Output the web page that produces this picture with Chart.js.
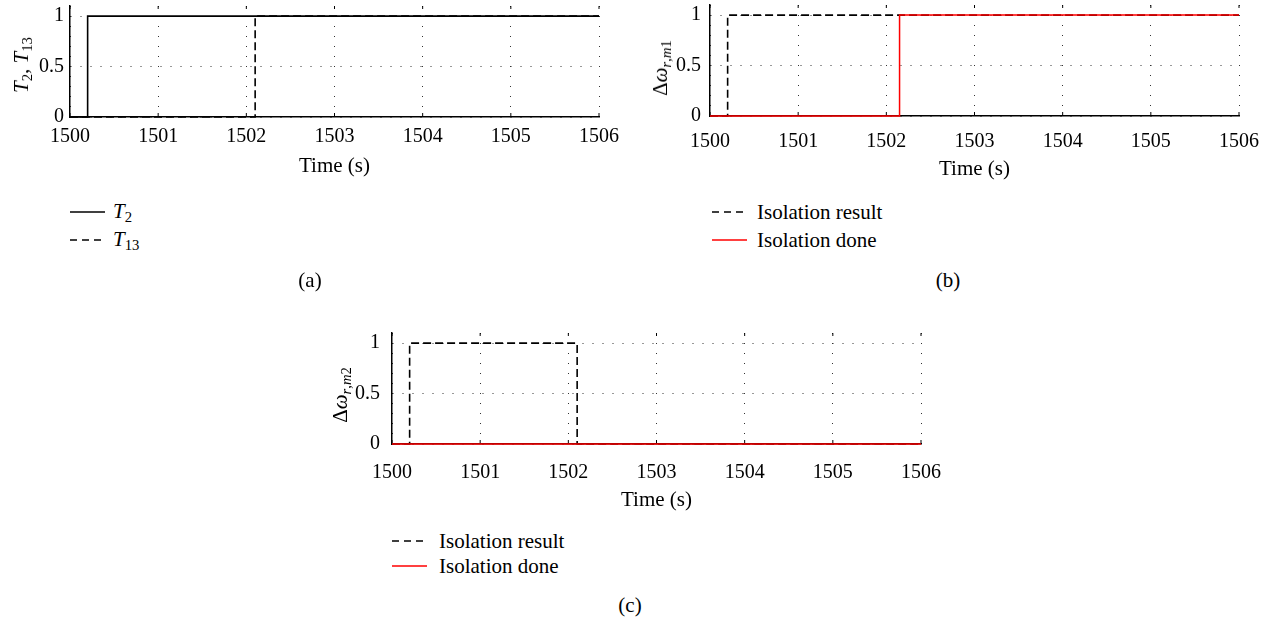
<!DOCTYPE html>
<html>
<head>
<meta charset="utf-8">
<script src="https://cdn.jsdelivr.net/npm/chart.js@4.4.0/dist/chart.umd.min.js"></script>
<style>
  body { margin: 0; background: #fff; width: 1270px; height: 619px; position: relative; overflow: hidden;
         font-family: "Liberation Serif", "Times New Roman", "DejaVu Serif", serif; color: #000; }
  canvas { position: absolute; }
  .txt { position: absolute; font-size: 21px; line-height: 24px; white-space: nowrap; }
  .ytitle { position: absolute; font-size: 21px; line-height: 24px; white-space: nowrap;
            transform: translate(-50%, -50%) rotate(-90deg); }
  .cap { position: absolute; font-size: 21px; line-height: 24px; transform: translateX(-50%); }
  sub { font-size: 0.7em; vertical-align: -0.3em; line-height: 0; }
  svg.key { position: absolute; overflow: visible; }
</style>
</head>
<body>
<canvas id="chartA" width="630" height="190" style="left:0px;top:0px"></canvas>
<canvas id="chartB" width="630" height="190" style="left:640px;top:0px"></canvas>
<canvas id="chartC" width="630" height="200" style="left:322px;top:320px"></canvas>

<div class="ytitle" style="left:21px;top:65px"><i>T</i><sub>2</sub>, <i>T</i><sub>13</sub></div>
<div class="ytitle" style="left:660px;top:68px">Δ<i>ω</i><sub><i>r</i>,<i>m</i>1</sub></div>
<div class="ytitle" style="left:340px;top:395px">Δ<i>ω</i><sub><i>r</i>,<i>m</i>2</sub></div>

<svg class="key" style="left:70px;top:212px" width="35" height="1"><line x1="0" y1="0" x2="35" y2="0" stroke="#000" stroke-width="1.5"/></svg>
<div class="txt" style="left:113px;top:199px"><i>T</i><sub>2</sub></div>
<svg class="key" style="left:70px;top:240px" width="35" height="1"><line x1="0" y1="0" x2="35" y2="0" stroke="#000" stroke-width="1.5" stroke-dasharray="7,5"/></svg>
<div class="txt" style="left:113px;top:227px"><i>T</i><sub>13</sub></div>
<div class="cap" style="left:310px;top:268px">(a)</div>

<svg class="key" style="left:712px;top:212px" width="35" height="1"><line x1="0" y1="0" x2="35" y2="0" stroke="#000" stroke-width="1.5" stroke-dasharray="7,5"/></svg>
<div class="txt" style="left:757px;top:200px">Isolation result</div>
<svg class="key" style="left:712px;top:240px" width="35" height="1"><line x1="0" y1="0" x2="35" y2="0" stroke="red" stroke-width="1.3"/></svg>
<div class="txt" style="left:757px;top:228px">Isolation done</div>
<div class="cap" style="left:948px;top:268px">(b)</div>

<svg class="key" style="left:392px;top:541px" width="35" height="1"><line x1="0" y1="0" x2="35" y2="0" stroke="#000" stroke-width="1.5" stroke-dasharray="7,5"/></svg>
<div class="txt" style="left:439px;top:529px">Isolation result</div>
<svg class="key" style="left:392px;top:566px" width="35" height="1"><line x1="0" y1="0" x2="35" y2="0" stroke="red" stroke-width="1.3"/></svg>
<div class="txt" style="left:439px;top:554px">Isolation done</div>
<div class="cap" style="left:630px;top:593px">(c)</div>

<script>
// axis ticks
const timeTicks = [1500, 1501, 1502, 1503, 1504, 1505, 1506];
const levelTicks = [0, 0.5, 1];

// (a) tripping signals
const t2Time = [1500, 1500.2, 1506];
const t2Value = [0, 1, 1];
const t13Time = [1500, 1502.1, 1506];
const t13Value = [0, 1, 1];

// (b) machine 1
const m1ResultTime = [1500, 1500.2, 1506];
const m1ResultValue = [0, 1, 1];
const m1DoneTime = [1500, 1502.15, 1506];
const m1DoneValue = [0, 1, 1];

// (c) machine 2
const m2ResultTime = [1500, 1500.2, 1502.1, 1506];
const m2ResultValue = [0, 1, 0, 0];
const m2DoneTime = [1500, 1506];
const m2DoneValue = [0, 0];

const family = '"Liberation Serif", "Times New Roman", "DejaVu Serif", serif';
const tickFont = { family: family, size: 20, lineHeight: 1.2 };
const titleFont = { family: family, size: 21, lineHeight: 1.15 };

function points(xs, ys) {
    return xs.map((x, i) => ({ x: x, y: ys[i] }));
}

function series(xs, ys, color, dashed, order) {
    return {
        data: points(xs, ys),
        borderColor: color,
        borderWidth: color === 'red' ? 1.5 : 1.6,
        borderDash: dashed ? [8, 4] : [],
        stepped: 'before',
        pointRadius: 0,
        clip: false,
        order: order
    };
}

// small inward tick marks at the top and bottom of each time grid line
const innerTicks = {
    id: 'innerTicks',
    beforeDatasetsDraw(chart) {
        const { ctx, chartArea, scales } = chart;
        ctx.save();
        ctx.strokeStyle = '#000';
        ctx.lineWidth = 1;
        timeTicks.forEach(t => {
            const x = scales.x.getPixelForValue(t);
            ctx.beginPath();
            ctx.moveTo(x, chartArea.bottom);
            ctx.lineTo(x, chartArea.bottom - 4);
            ctx.moveTo(x, chartArea.top);
            ctx.lineTo(x, chartArea.top + 3);
            ctx.stroke();
        });
        ctx.restore();
    }
};

function makeChart(id, datasets, p) {
    const ctx = document.getElementById(id).getContext('2d');
    return new Chart(ctx, {
        type: 'line',
        data: { datasets: datasets },
        plugins: [innerTicks],
        options: {
            animation: false,
            responsive: false,
            layout: { autoPadding: false, padding: { left: 0, right: 31, top: p.top, bottom: p.bottom } },
            plugins: { legend: { display: false }, tooltip: { enabled: false } },
            scales: {
                x: {
                    type: 'linear', min: 1500, max: 1506,
                    afterBuildTicks: s => { s.ticks = timeTicks.map(v => ({ value: v })); },
                    afterFit: s => { s.height = p.xHeight; s.paddingLeft = 0; s.paddingRight = 0; },
                    ticks: { padding: p.xPad, color: '#000', font: tickFont, maxRotation: 0, autoSkip: false,
                             callback: v => String(v) },
                    grid: { color: '#333', lineWidth: 1, drawTicks: false },
                    border: { color: '#000', width: 1.5, dash: [1, 9] },
                    title: { display: true, text: 'Time (s)', color: '#000', font: titleFont, padding: 0 }
                },
                y: {
                    min: 0, max: 1.1,
                    afterBuildTicks: s => { s.ticks = levelTicks.map(v => ({ value: v })); },
                    afterFit: s => { s.width = 70; s.paddingTop = 0; s.paddingBottom = 0; },
                    ticks: { padding: p.yPad, color: '#000', font: tickFont, callback: v => String(v) },
                    grid: { color: '#333', lineWidth: 1, drawTicks: false },
                    border: { color: '#000', width: 1.5, dash: [1, 9] }
                }
            }
        }
    });
}

makeChart('chartA', [
    series(t2Time, t2Value, '#000', false, 0),
    series(t13Time, t13Value, '#000', true, 1)
], { top: 6, bottom: 11, xHeight: 62, xPad: 8, yPad: 6 });

makeChart('chartB', [
    series(m1ResultTime, m1ResultValue, '#000', true, 1),
    series(m1DoneTime, m1DoneValue, 'red', false, 0)
], { top: 5, bottom: 8, xHeight: 66, xPad: 14, yPad: 9 });

makeChart('chartC', [
    series(m2ResultTime, m2ResultValue, '#000', true, 1),
    series(m2DoneTime, m2DoneValue, 'red', false, 0)
], { top: 13, bottom: 7, xHeight: 69, xPad: 17, yPad: 12 });
</script>
</body>
</html>
